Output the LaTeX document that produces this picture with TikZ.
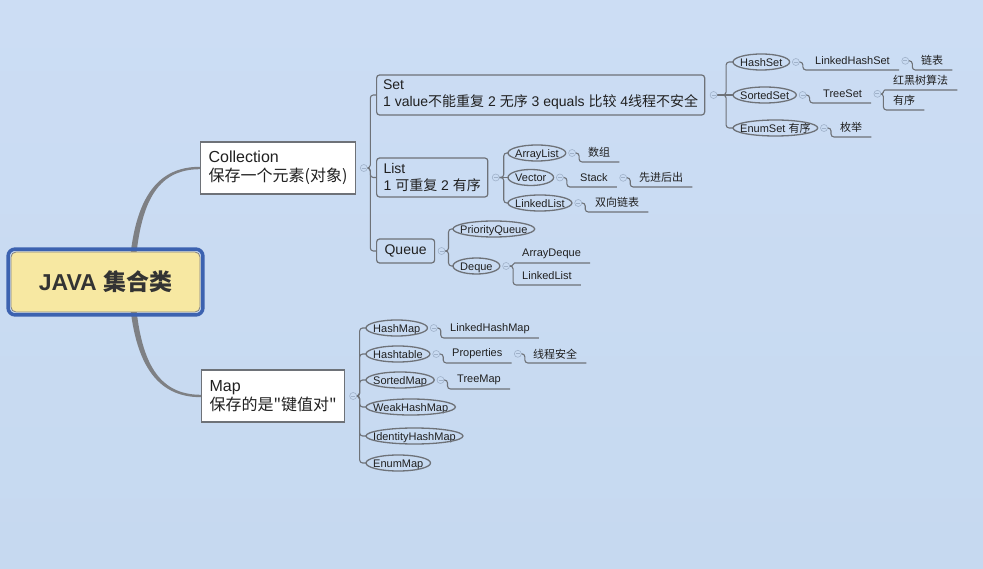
\documentclass[tikz,border=0pt]{standalone}
\usepackage{fontspec}
\setmainfont{Liberation Sans}
\newfontfamily\zhfont{Noto Sans CJK SC}
\newcommand{\zh}[1]{{\zhfont #1}}
\usetikzlibrary{positioning,calc}
\definecolor{bgtop}{HTML}{CCDDF4}
\definecolor{bgbot}{HTML}{C6D9F0}
\definecolor{bgblue}{HTML}{C9DBF2}
\definecolor{linegray}{HTML}{6E7278}
\definecolor{trunkgray}{HTML}{7E8084}
\definecolor{rootblue}{HTML}{3C62B0}
\definecolor{rootyellow}{HTML}{F7E8A2}
\definecolor{foldgray}{HTML}{A0B2CA}
\definecolor{ink}{HTML}{202020}
\pgfdeclarelayer{bg}
\pgfsetlayers{bg,main}

\tikzset{
  rootbox/.style={rectangle, rounded corners=5pt, fill=rootyellow, draw=gray, line width=.8pt,
    minimum width=189pt, minimum height=60pt, text=black!80, font=\fontsize{23}{26}\selectfont\bfseries},
  rootframe/.style={draw=rootblue, line width=3.5pt, rounded corners=7pt},
  topic/.style={draw=linegray, line width=1.2pt, fill=white, align=left, inner xsep=8pt,
    anchor=west, font=\fontsize{16}{18.5}\selectfont, text=ink},
  sub/.style={draw=linegray, line width=1.2pt, rounded corners=3pt, align=left, inner xsep=7pt,
    inner ysep=2pt, anchor=west, font=\fontsize{14}{17}\selectfont, text=ink},
  oval/.style={inner xsep=7pt, inner ysep=0pt, minimum height=16pt, text height=8.7pt, text depth=0pt,
    anchor=west, font=\fontsize{11}{13}\selectfont, text=ink},
  leaf/.style={inner xsep=9pt, inner ysep=0pt, minimum height=18pt, anchor=south west,
    font=\fontsize{11}{13}\selectfont, text=ink},
  link/.style={draw=linegray, line width=1.1pt, rounded corners=3pt},
  ovalline/.style={draw=linegray, line width=1.3pt},
  fold/.style={circle, draw=foldgray, fill=bgblue, line width=.6pt, minimum size=7pt, inner sep=0pt,
    path picture={\draw[foldgray, line width=.6pt] ([xshift=-2pt]path picture bounding box.center)
      -- ([xshift=2pt]path picture bounding box.center);}},
  trunk/.style={fill=trunkgray},
}

\begin{document}
\begin{tikzpicture}[x=1pt, y=-1pt]
  \begin{pgfonlayer}{bg}
    \fill[top color=bgtop, bottom color=bgbot] (0,0) rectangle (983,569);
  \end{pgfonlayer}

  % central topic
  \node[rootbox] (root) at (105.5,282) {JAVA \zh{集合类}};
  \draw[rootframe] ($(root.north west)+(-2.5,-2.5)$) rectangle ($(root.south east)+(2.5,2.5)$);

  % main topics
  \node[topic, minimum height=52pt] (coll) at (200,168) {Collection\\\zh{保存一个元素(对象)}};
  \node[topic, minimum height=52pt] (map) at (201,396) {Map\\\zh{保存的是"键值对"}};

  % Collection
  \node[sub, inner xsep=6.5pt, minimum height=40pt] (set) at (376,95)
    {Set\\1 value\zh{不能重复} 2 \zh{无序} 3 equals \zh{比较} 4\zh{线程不安全}};
  \node[sub, minimum height=39pt] (list) at (376,177.5) {List\\1 \zh{可重复} 2 \zh{有序}};
  \node[sub, inner xsep=8pt, minimum height=24pt] (queue) at (376,251) {Queue};

  % Set
  \node[oval] (hs) at (733,62) {HashSet};
  \node[oval] (ss) at (733,95) {SortedSet};
  \node[oval] (es) at (733,128) {EnumSet \zh{有序}};
  \node[leaf] (lhs) at (806,70) {LinkedHashSet};
  \node[leaf] (lhsl) at (912,70) {\zh{链表}};
  \node[leaf] (ts) at (814,103) {TreeSet};
  \node[leaf] (rb) at (884,90) {\zh{红黑树算法}};
  \node[leaf] (tso) at (884,110) {\zh{有序}};
  \node[leaf] (enum) at (831,137) {\zh{枚举}};

  % List
  \node[oval] (al) at (508,153) {ArrayList};
  \node[oval] (vec) at (508,177.5) {Vector};
  \node[oval] (ll) at (508,203) {LinkedList};
  \node[leaf] (arr) at (579,162) {\zh{数组}};
  \node[leaf] (stack) at (571,187) {Stack};
  \node[leaf] (lifo) at (630,187) {\zh{先进后出}};
  \node[leaf] (dll) at (586,212) {\zh{双向链表}};

  % Queue
  \node[oval] (pq) at (453,229) {PriorityQueue};
  \node[oval] (dq) at (453,266) {Deque};
  \node[leaf] (ad) at (513,263) {ArrayDeque};
  \node[leaf] (dql) at (513,285) {LinkedList};

  % Map
  \node[oval] (hm) at (366,328) {HashMap};
  \node[oval] (ht) at (366,354) {Hashtable};
  \node[oval] (sm) at (366,380) {SortedMap};
  \node[oval] (whm) at (366,407) {WeakHashMap};
  \node[oval] (ihm) at (366,436) {IdentityHashMap};
  \node[oval] (em) at (366,463) {EnumMap};
  \node[leaf] (lhm) at (441,338) {LinkedHashMap};
  \node[leaf] (prop) at (443,363) {Properties};
  \node[leaf] (safe) at (524,363) {\zh{线程安全}};
  \node[leaf] (tm) at (448,389) {TreeMap};

  % oval outlines
  \foreach \o in {hs,ss,es,al,vec,ll,pq,dq,hm,ht,sm,whm,ihm,em}
    \draw[ovalline] let \p1=($(\o.east)-(\o.west)$) in (\o.center) ellipse [x radius=0.5*\x1, y radius=8pt];

  % fold markers
  \node[fold, right=4pt of coll] (fColl) {};
  \node[fold, right=4pt of map] (fMap) {};
  \node[fold, right=4.5pt of set] (fSet) {};
  \node[fold, right=3.5pt of list] (fList) {};
  \node[fold, right=2.5pt of queue] (fQueue) {};
  \foreach \o in {hs,ss,es,lhs,ts,al,vec,stack,ll,dq,hm,ht,prop,sm}
    \node[fold, right=2.5pt of \o] (f\o) {};

  \begin{pgfonlayer}{bg}
    % trunks
    \fill[trunk] ([xshift=23pt]root.center) .. controls +(3,-84) and +(-43,0) .. ([yshift=1.2pt]coll.west)
      -- ([yshift=-1.2pt]coll.west) .. controls +(-43,0) and +(3,-80) .. ([xshift=29pt]root.center) -- cycle;
    \fill[trunk] ([xshift=23pt]root.center) .. controls +(3,84) and +(-43,0) .. ([yshift=-1.2pt]map.west)
      -- ([yshift=1.2pt]map.west) .. controls +(-43,0) and +(3,80) .. ([xshift=29pt]root.center) -- cycle;
    % branches
    \foreach \c in {set,list,queue}
      \draw[link] (fColl.center) -- ++(6.5,0) |- (\c.west);
    \foreach \c in {hm,ht,sm,whm,ihm,em}
      \draw[link] (fMap.center) -- ++(6.5,0) |- (\c.west);
    \foreach \c in {hs,es}
      \draw[link] (fSet.center) -- ++(12.5,0) |- (\c.west);
    \draw[link] (fSet.center) -- (ss.west);
    \foreach \c in {al,ll}
      \draw[link] (fList.center) -- ++(8,0) |- (\c.west);
    \draw[link] (fList.center) -- (vec.west);
    \foreach \c in {pq,dq}
      \draw[link] (fQueue.center) -- ++(7,0) |- (\c.west);
    % leaves
    \draw[link] (fhs.center) -- ++(7,0) |- (lhs.south east);
    \draw[link] (flhs.center) -- ++(7,0) |- (lhsl.south east);
    \draw[link] (fss.center) -- ++(7,0) |- (ts.south east);
    \draw[link, rounded corners=1.5pt] (fts.center) -- ++(6,0) |- (rb.south east);
    \draw[link] (fts.center) -- ++(6,0) |- (tso.south east);
    \draw[link] (fes.center) -- ++(7,0) |- (enum.south east);
    \draw[link] (fal.center) -- ++(7,0) |- (arr.south east);
    \draw[link] (fvec.center) -- ++(7,0) |- (stack.south east);
    \draw[link] (fstack.center) -- ++(7,0) |- (lifo.south east);
    \draw[link] (fll.center) -- ++(7,0) |- (dll.south east);
    \draw[link, rounded corners=1.5pt] (fdq.center) -- ++(7,0) |- (ad.south east);
    \draw[link] (fdq.center) -- ++(7,0) |- (dql.south east);
    \draw[link] (fhm.center) -- ++(7,0) |- (lhm.south east);
    \draw[link] (fht.center) -- ++(7,0) |- (prop.south east);
    \draw[link] (fprop.center) -- ++(7,0) |- (safe.south east);
    \draw[link] (fsm.center) -- ++(7,0) |- (tm.south east);
  \end{pgfonlayer}
\end{tikzpicture}
\end{document}
